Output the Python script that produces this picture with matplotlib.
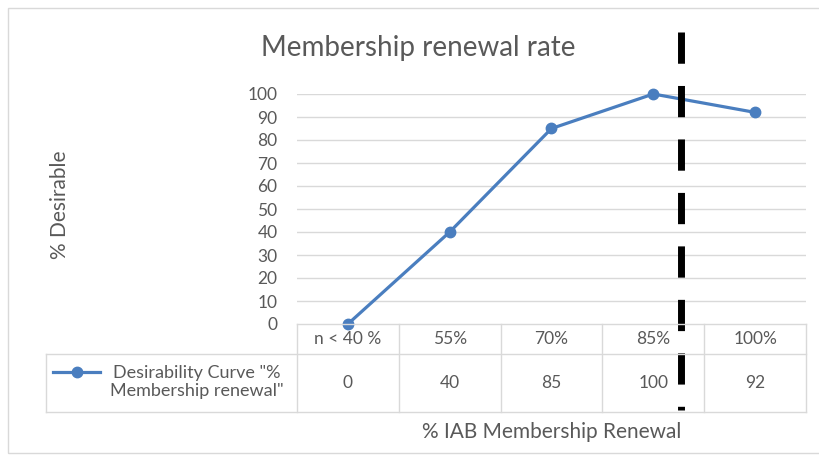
import matplotlib
matplotlib.use("Agg")
import matplotlib.pyplot as plt
from matplotlib.lines import Line2D
from matplotlib.patches import Rectangle
import matplotlib.transforms as mtransforms

categories = ["n < 40 %", "55%", "70%", "85%", "100%"]
values = [0, 40, 85, 100, 92]
yticks = [0, 10, 20, 30, 40, 50, 60, 70, 80, 90, 100]
series_name = 'Desirability Curve "%\nMembership renewal"'
title = "Membership renewal rate"
xlabel = "% IAB Membership Renewal"
ylabel = "% Desirable"
threshold_pos = 3.27  # position of the dashed cut-off line (between 85% and 100%)

plt.rcParams['font.family'] = ['Lato', 'DejaVu Sans']
plt.rcParams['lines.scale_dashes'] = False

W, H = 820, 467
DPI = 100
fig = plt.figure(figsize=(W / DPI, H / DPI), dpi=DPI)
fig.patch.set_facecolor("white")

TXT = "#595959"
GRID = "#d9d9d9"
BLUE = "#4a7ebf"

# plot area in pixels
L, R, T, B = 297, 806, 94, 324
ax = fig.add_axes([L / W, 1 - B / H, (R - L) / W, (B - T) / H])
ax.set_xlim(-0.5, len(categories) - 0.5)
ax.set_ylim(0, 100)
for s in ax.spines.values():
    s.set_visible(False)
ax.set_xticks([])
ax.set_yticks(yticks)
ax.set_yticklabels([str(v) for v in yticks], fontsize=12.5, color=TXT)
ax.tick_params(axis="y", length=0, pad=14)
for v in yticks[1:]:
    ax.axhline(v, color=GRID, lw=1, zorder=1)

x = list(range(len(categories)))
ax.plot(x, values, color=BLUE, lw=2.3, marker="o", markersize=7.5, zorder=3,
        clip_on=False)

def fy(py):
    return 1 - py / H

def fx(px):
    return px / W

# outer frame
fig.add_artist(Rectangle((fx(8), fy(453)), fx(830) - fx(8), fy(8) - fy(453),
                         transform=fig.transFigure, fill=False, edgecolor=GRID, lw=1))

# table
col_edges = [L + (R - L) * k / len(categories) for k in range(len(categories) + 1)]
hdr_top, hdr_bot, row_bot, row_left = 324, 354, 412, 46
def hline(y, x0, x1):
    fig.add_artist(Line2D([fx(x0), fx(x1)], [fy(y), fy(y)], transform=fig.transFigure,
                          color=GRID, lw=1))
def vline(xp, y0, y1):
    fig.add_artist(Line2D([fx(xp), fx(xp)], [fy(y0), fy(y1)], transform=fig.transFigure,
                          color=GRID, lw=1))
hline(hdr_top, col_edges[0], col_edges[-1])
hline(hdr_bot, row_left, col_edges[-1])
hline(row_bot, row_left, col_edges[-1])
for e in col_edges:
    vline(e, hdr_top, row_bot)
vline(row_left, hdr_bot, row_bot)

for i, (c, v) in enumerate(zip(categories, values)):
    cx = (col_edges[i] + col_edges[i + 1]) / 2
    fig.text(fx(cx), fy((hdr_top + hdr_bot) / 2), c, ha="center", va="center",
             fontsize=12.5, color=TXT)
    fig.text(fx(cx), fy((hdr_bot + row_bot) / 2), str(v), ha="center", va="center",
             fontsize=12.5, color=TXT)

# legend key in table
fig.add_artist(Line2D([fx(53), fx(100)], [fy(372), fy(372)], transform=fig.transFigure,
                      color=BLUE, lw=2.3))
fig.add_artist(Line2D([fx(77)], [fy(372)], transform=fig.transFigure, color=BLUE,
                      marker="o", markersize=7.5, lw=0))
fig.text(fx(197), fy(382), series_name, ha="center", va="center", fontsize=13,
         color=TXT, linespacing=1.15)

# titles
fig.text(fx(418), fy(48), title, ha="center", va="center", fontsize=20, color=TXT)
fig.text(fx(552), fy(432), xlabel, ha="center", va="center", fontsize=15, color=TXT)
fig.text(fx(60), fy(205), ylabel, ha="center", va="center", fontsize=15, color=TXT,
         rotation=90)

# dashed vertical cut-off line
trans = mtransforms.blended_transform_factory(ax.transData, fig.transFigure)
ax.plot([threshold_pos, threshold_pos], [fy(32), fy(410)], transform=trans,
        color="black", lw=5, dashes=(22.5, 16), clip_on=False, zorder=5,
        solid_capstyle="butt", dash_capstyle="butt")

fig.savefig("out.png", dpi=DPI, facecolor="white")
